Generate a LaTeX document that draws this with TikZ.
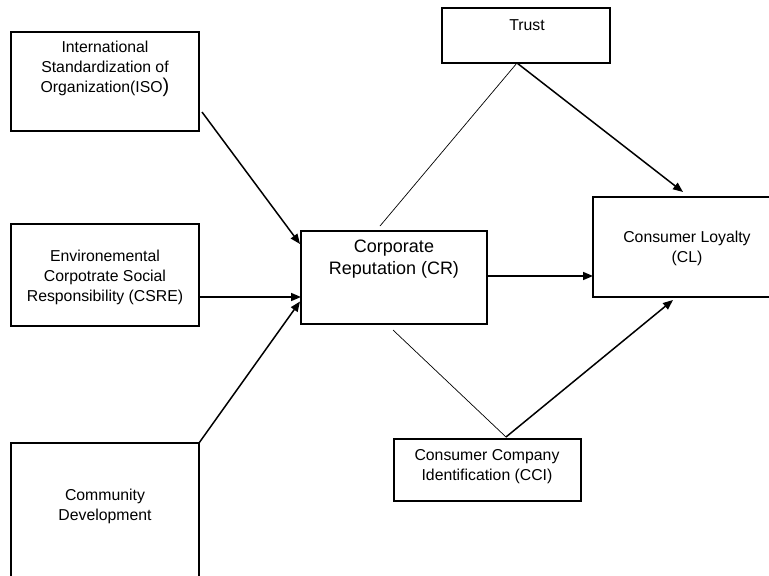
\documentclass[tikz,border=0pt]{standalone}
\usepackage{fontspec}
\setmainfont{Liberation Sans}
\usetikzlibrary{calc,arrows.meta}
\begin{document}
\begin{tikzpicture}[x=1pt,y=-1pt,
  box/.style={draw,line width=1.2pt,minimum width=#1,inner sep=0pt,outer sep=0pt},
  txt/.style={align=center,inner sep=0pt,font=\fontsize{15.8}{20}\selectfont},
  bigtxt/.style={align=center,inner sep=0pt,font=\fontsize{18}{22}\selectfont},
  arr/.style={line width=1.5pt,-{Triangle[length=10pt,width=8pt]}},
  thin/.style={line width=0.7pt}]
\useasboundingbox (0,0) rectangle (769,576);
% boxes
\node[box=188pt,minimum height=99pt] (iso) at (105,81.5) {};
\node[box=188pt,minimum height=102pt] (csre) at (105,275) {};
\node[box=188pt,minimum height=157pt] (comm) at (105,521.5) {};
\node[box=186pt,minimum height=93pt] (cr) at (394,277.5) {};
\node[box=188pt,minimum height=100pt] (cl) at (687,247) {};
\node[box=168pt,minimum height=55pt] (trust) at (526,35.5) {};
\node[box=187pt,minimum height=62pt] (cci) at (487.5,470) {};
% texts
\node[txt] (isot) at (105,69) {International\\Standardization of\\Organization(ISO{\fontsize{20}{20}\selectfont )}};
\node[txt] (csret) at (105,277) {Environemental\\Corpotrate Social\\Responsibility (CSRE)};
\node[txt] (commt) at (105,506) {Community\\Development};
\node[bigtxt] (crt) at (394,259) {Corporate\\Reputation (CR)};
\node[txt] (trustt) at (527,25) {Trust};
\node[txt] (clt) at (687,248) {Consumer Loyalty\\(CL)};
\node[txt] (ccit) at (487,467) {Consumer Company\\Identification (CCI)};
% connectors
\draw[arr] ($(iso.north east)+(3,80)$) -- ($(cr.north west)+(-1,13)$);
\draw[arr] ($(csre.east)+(0,22)$) coordinate (a) -- (a -| cr.west);
\draw[arr] (comm.north east) -- ($(cr.west)+(-1,24)$);
\draw[arr] ($(cr.east)+(0,-1.5)$) coordinate (b) -- (b -| cl.west);
\coordinate (tb) at ($(trust.south)+(-9,0)$);
\draw[thin] (tb) -- ($(cr.north west)+(79,-5)$);
\draw[arr] (tb) -- ($(cl.north west)+(90,-5)$);
\coordinate (ct) at ($(cci.north west)+(112,-2)$);
\draw[thin] ($(cr.south west)+(92,6)$) -- (ct);
\draw[arr] (ct) -- ($(cl.south west)+(80,3)$);
\end{tikzpicture}
\end{document}
